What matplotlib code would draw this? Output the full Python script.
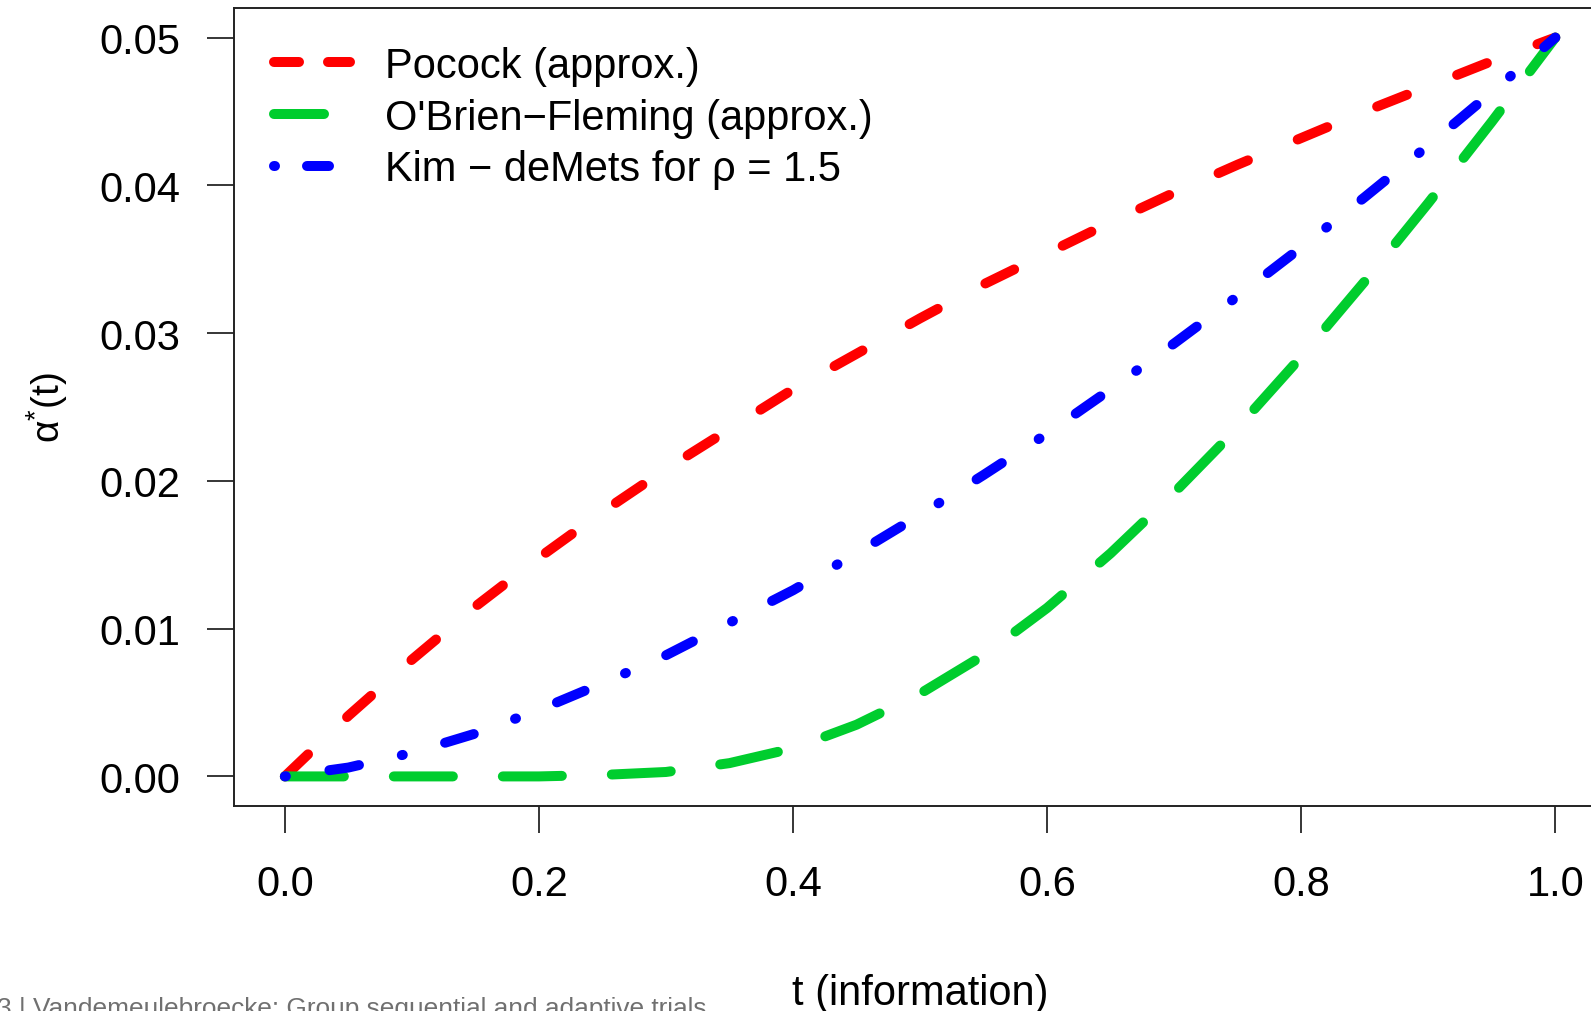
import matplotlib
matplotlib.use("Agg")
import matplotlib.pyplot as plt
from matplotlib.lines import Line2D

## data #####################################################

t_info = [0.00, 0.05, 0.10, 0.15, 0.20, 0.25, 0.30, 0.35, 0.40, 0.45, 0.50,
          0.55, 0.60, 0.65, 0.70, 0.75, 0.80, 0.85, 0.90, 0.95, 1.00]

pocock = [0.0000, 0.0041, 0.0079, 0.0115, 0.0148, 0.0179, 0.0208, 0.0235, 0.0262, 0.0286, 0.0310,
          0.0333, 0.0354, 0.0375, 0.0395, 0.0414, 0.0432, 0.0450, 0.0467, 0.0484, 0.0500]

obrien = [0.0000, 0.0000, 0.0000, 0.0000, 0.0000, 0.0001, 0.0003, 0.0009, 0.0019, 0.0035, 0.0056,
          0.0082, 0.0114, 0.0151, 0.0192, 0.0236, 0.0284, 0.0335, 0.0388, 0.0443, 0.0500]

kim_demets = [0.0000, 0.0006, 0.0016, 0.0029, 0.0045, 0.0063, 0.0082, 0.0104, 0.0126, 0.0151, 0.0177,
              0.0204, 0.0232, 0.0262, 0.0293, 0.0325, 0.0358, 0.0392, 0.0427, 0.0463, 0.0500]

labels = ["Pocock (approx.)", "O'Brien\u2212Fleming (approx.)", "Kim \u2212 deMets for \u03c1 = 1.5"]
xticks = [0.0, 0.2, 0.4, 0.6, 0.8, 1.0]
yticks = [0.00, 0.01, 0.02, 0.03, 0.04, 0.05]

## style ################################

plt.rcParams['font.family'] = ['Liberation Sans', 'DejaVu Sans']
plt.rcParams['mathtext.fontset'] = 'custom'
plt.rcParams['mathtext.rm'] = 'Liberation Sans'

RED, GREEN, BLUE = '#ff0000', '#00cd2e', '#0000ff'
LW = 7.2
FS = 30

fig = plt.figure(figsize=(15.91, 10.12), dpi=100)
ax = fig.add_axes([0.1471, 0.2026, 0.8624, 0.7885])

common = dict(lw=LW, dash_capstyle='round', solid_capstyle='round')
ax.plot(t_info, pocock, color=RED, dashes=(3.2, 5.4), **common)
ax.plot(t_info, obrien, color=GREEN, dashes=(5.9, 5.0), **common)
ax.plot(t_info, kim_demets, color=BLUE, dashes=(0.1, 4.4, 3.0, 4.4), **common)

ax.set_xlim(-0.04, 1.04)
ax.set_ylim(-0.002, 0.052)
ax.set_xticks(xticks)
ax.set_xticklabels(["%.1f" % v for v in xticks])
ax.set_yticks(yticks)
ax.set_yticklabels(["%.2f" % v for v in yticks])
ax.tick_params(axis='both', labelsize=FS, length=19.5, width=1.1, direction='out')
ax.tick_params(axis='x', pad=22)
ax.tick_params(axis='y', pad=19)
for s in ax.spines.values():
    s.set_linewidth(1.4)
    s.set_color('#222222')

ax.set_xlabel("t (information)", fontsize=FS)
ax.xaxis.label.set_va('baseline')
ax.xaxis.set_label_coords(0.5, -0.248)
ax.set_ylabel(r'$\mathregular{\alpha^{*}(t)}$', fontsize=28)
ax.yaxis.label.set_va('center')
ax.yaxis.set_label_coords(-0.1363, 0.5)

# legend proxies, R draws shorter dash segments in the key
handles = [
    Line2D([], [], color=RED, dashes=(2.5, 2.9), **common),
    Line2D([], [], color=GREEN, dashes=(5.0, 5.0), **common),
    Line2D([], [], color=BLUE, dashes=(0.1, 3.2, 2.2, 5.0), **common),
]
ax.legend(handles, labels, loc='upper left', bbox_to_anchor=(0.0292, 0.9525),
          frameon=False, fontsize=FS, borderpad=0, borderaxespad=0,
          handlelength=1.82, handletextpad=0.85, labelspacing=0.28)

fig.text(-0.0019, -0.004, "3 | Vandemeulebroecke: Group sequential and adaptive trials",
         fontsize=18.9, color='#707070', ha='left', va='baseline')

fig.savefig("out.png", dpi=100)
